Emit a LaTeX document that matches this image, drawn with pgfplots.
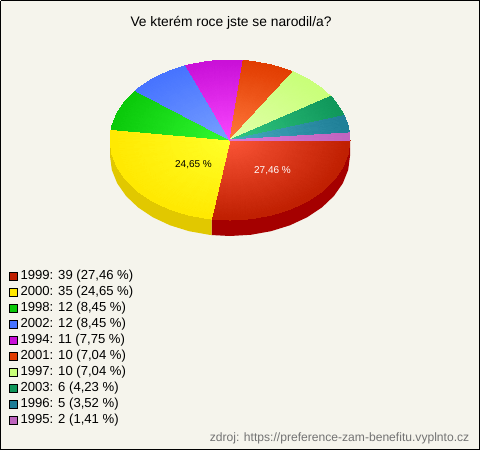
\documentclass[border=0pt]{standalone}
\usepackage{fontspec}
\setmainfont{Liberation Sans}
\usepackage{pgfplots}
\pgfplotsset{compat=1.18}
\definecolor{bg}{RGB}{245,244,236}
\definecolor{c1999}{RGB}{190,30,0}
\definecolor{c2000}{RGB}{255,232,0}
\definecolor{c1998}{RGB}{10,200,10}
\definecolor{c2002}{RGB}{70,115,255}
\definecolor{c1994}{RGB}{200,15,215}
\definecolor{c2001}{RGB}{225,60,0}
\definecolor{c1997}{RGB}{200,255,120}
\definecolor{c2003}{RGB}{15,150,90}
\definecolor{c1996}{RGB}{30,125,150}
\definecolor{c1995}{RGB}{190,100,190}
\pgfplotsset{slice/.style={patch,shader=interp,mesh/color input=explicit,table/row sep=\\,forget plot}}
\begin{document}
\begin{tikzpicture}
\begin{axis}[
  scale only axis,width=480pt,height=450pt,
  xmin=0,xmax=480,ymin=0,ymax=450,y dir=reverse,
  hide axis,clip=true,
  legend cell align=left,
  legend style={at={(axis cs:9,268)},anchor=north west,draw=none,fill=none,font=\fontsize{13.1}{16}\selectfont,
    inner sep=0pt,outer sep=0pt,row sep=0pt,
    nodes={inner sep=0pt,text height=11pt,text depth=5pt}},
  legend image code/.code={\path (0pt,0pt) (11pt,0pt);\draw[#1,draw=black,line width=0.8pt] (0pt,-4pt) rectangle (8pt,4pt);},
]
% background and frame
\addplot[fill=bg,draw=none,forget plot] coordinates {(0,0)(480,0)(480,450)(0,450)} --cycle;
\addplot[draw=black,line width=1pt,forget plot] coordinates {(0.5,0.5)(479.5,0.5)(479.5,449.5)(0.5,449.5)(0.5,0.5)};
% side walls
\addplot[fill={rgb,255:red,165;green,0;blue,0},draw=none,forget plot] coordinates {(350,140)(348.18,153.89)(342.76,167.36)(333.92,180)(321.93,191.42)(307.13,201.28)(290,209.28)(271.04,215.18)(250.84,218.78)(230,220)(211.5,219.04)
 (211.5,235.04)(230,236)(250.84,234.78)(271.04,231.18)(290,225.28)(307.13,217.28)(321.93,207.42)(333.92,196)(342.76,183.36)(348.18,169.89)(350,156)} --cycle;
\addplot[fill={rgb,255:red,225;green,200;blue,0},draw=none,forget plot] coordinates {(211.5,219.04)(209.16,218.78)(188.96,215.18)(170,209.28)(152.86,201.28)(138.07,191.42)(126.08,180)(117.24,167.36)(111.82,153.89)(110,140)
 (110,156)(111.82,169.89)(117.24,183.36)(126.08,196)(138.07,207.42)(152.86,217.28)(170,225.28)(188.96,231.18)(209.16,234.78)(211.5,235.04)} --cycle;
% top slices
\addplot[slice,patch table={0 1 2\\0 2 3\\0 3 4\\0 4 5\\0 5 6\\0 6 7\\0 7 8\\0 8 9\\0 9 10\\0 10 11\\}] table[meta=c]{x y c\\
230 140 rgb255=250,85,55\\
350 140 rgb255=190,30,0\\
348.18 153.89 rgb255=190,30,0\\
342.76 167.36 rgb255=190,30,0\\
333.92 180 rgb255=190,30,0\\
321.93 191.42 rgb255=190,30,0\\
307.13 201.28 rgb255=190,30,0\\
290 209.28 rgb255=190,30,0\\
271.04 215.18 rgb255=190,30,0\\
250.84 218.78 rgb255=190,30,0\\
230 220 rgb255=190,30,0\\
211.5 219.04 rgb255=190,30,0\\
};
\addplot[slice,patch table={0 1 2\\0 2 3\\0 3 4\\0 4 5\\0 5 6\\0 6 7\\0 7 8\\0 8 9\\0 9 10\\0 10 11\\}] table[meta=c]{x y c\\
230 140 rgb255=255,255,40\\
211.5 219.04 rgb255=255,232,0\\
209.16 218.78 rgb255=255,232,0\\
188.96 215.18 rgb255=255,232,0\\
170 209.28 rgb255=255,232,0\\
152.86 201.28 rgb255=255,232,0\\
138.07 191.42 rgb255=255,232,0\\
126.08 180 rgb255=255,232,0\\
117.24 167.36 rgb255=255,232,0\\
111.82 153.89 rgb255=255,232,0\\
110 140 rgb255=255,232,0\\
111.06 129.41 rgb255=255,232,0\\
};
\addplot[slice,patch table={0 1 2\\0 2 3\\0 3 4\\0 4 5\\}] table[meta=c]{x y c\\
230 140 rgb255=50,250,50\\
111.06 129.41 rgb255=10,200,10\\
111.82 126.11 rgb255=10,200,10\\
117.24 112.64 rgb255=10,200,10\\
126.08 100 rgb255=10,200,10\\
135.49 90.7 rgb255=10,200,10\\
};
\addplot[slice,patch table={0 1 2\\0 2 3\\0 3 4\\0 4 5\\}] table[meta=c]{x y c\\
230 140 rgb255=120,160,255\\
135.49 90.7 rgb255=70,115,255\\
138.07 88.58 rgb255=70,115,255\\
152.86 78.72 rgb255=70,115,255\\
170 70.72 rgb255=70,115,255\\
185.92 65.59 rgb255=70,115,255\\
};
\addplot[slice,patch table={0 1 2\\0 2 3\\0 3 4\\0 4 5\\}] table[meta=c]{x y c\\
230 140 rgb255=250,70,255\\
185.92 65.59 rgb255=200,15,215\\
188.96 64.82 rgb255=200,15,215\\
209.16 61.22 rgb255=200,15,215\\
230 60 rgb255=200,15,215\\
243.25 60.49 rgb255=200,15,215\\
};
\addplot[slice,patch table={0 1 2\\0 2 3\\0 3 4\\0 4 5\\}] table[meta=c]{x y c\\
230 140 rgb255=255,120,60\\
243.25 60.49 rgb255=225,60,0\\
250.84 61.22 rgb255=225,60,0\\
271.04 64.82 rgb255=225,60,0\\
290 70.72 rgb255=225,60,0\\
293.04 71.93 rgb255=225,60,0\\
};
\addplot[slice,patch table={0 1 2\\0 2 3\\0 3 4\\}] table[meta=c]{x y c\\
230 140 rgb255=225,255,170\\
293.04 71.93 rgb255=200,255,120\\
307.13 78.72 rgb255=200,255,120\\
321.93 88.58 rgb255=200,255,120\\
330.69 96.48 rgb255=200,255,120\\
};
\addplot[slice,patch table={0 1 2\\0 2 3\\0 3 4\\}] table[meta=c]{x y c\\
230 140 rgb255=50,200,130\\
330.69 96.48 rgb255=15,150,90\\
333.92 100 rgb255=15,150,90\\
342.76 112.64 rgb255=15,150,90\\
344.29 115.61 rgb255=15,150,90\\
};
\addplot[slice,patch table={0 1 2\\0 2 3\\}] table[meta=c]{x y c\\
230 140 rgb255=70,170,190\\
344.29 115.61 rgb255=30,125,150\\
348.18 126.11 rgb255=30,125,150\\
349.53 132.93 rgb255=30,125,150\\
};
\addplot[slice,patch table={0 1 2\\}] table[meta=c]{x y c\\
230 140 rgb255=220,120,215\\
349.53 132.93 rgb255=190,100,190\\
350 140 rgb255=190,100,190\\
};
% legend
\addlegendimage{fill=c1999}\addlegendentry{1999: 39 (27,46 \%)}
\addlegendimage{fill=c2000}\addlegendentry{2000: 35 (24,65 \%)}
\addlegendimage{fill=c1998}\addlegendentry{1998: 12 (8,45 \%)}
\addlegendimage{fill=c2002}\addlegendentry{2002: 12 (8,45 \%)}
\addlegendimage{fill=c1994}\addlegendentry{1994: 11 (7,75 \%)}
\addlegendimage{fill=c2001}\addlegendentry{2001: 10 (7,04 \%)}
\addlegendimage{fill=c1997}\addlegendentry{1997: 10 (7,04 \%)}
\addlegendimage{fill=c2003}\addlegendentry{2003: 6 (4,23 \%)}
\addlegendimage{fill=c1996}\addlegendentry{1996: 5 (3,52 \%)}
\addlegendimage{fill=c1995}\addlegendentry{1995: 2 (1,41 \%)}
% texts
\node[font=\fontsize{13.8}{16}\selectfont,anchor=base] at (axis cs:231,26) {Ve kterém roce jste se narodil/a?};
\node[font=\fontsize{10}{12}\selectfont,anchor=base] at (axis cs:193.5,167) {24,65 \%};
\node[font=\fontsize{10}{12}\selectfont,anchor=base,text=white] at (axis cs:272.5,173) {27,46 \%};
\node[font=\fontsize{12.1}{14}\selectfont,anchor=base east,text=black!55,inner sep=0pt] at (axis cs:469.5,441.5) {zdroj: https://preference-zam-benefitu.vyplnto.cz};
\end{axis}
\end{tikzpicture}
\end{document}
